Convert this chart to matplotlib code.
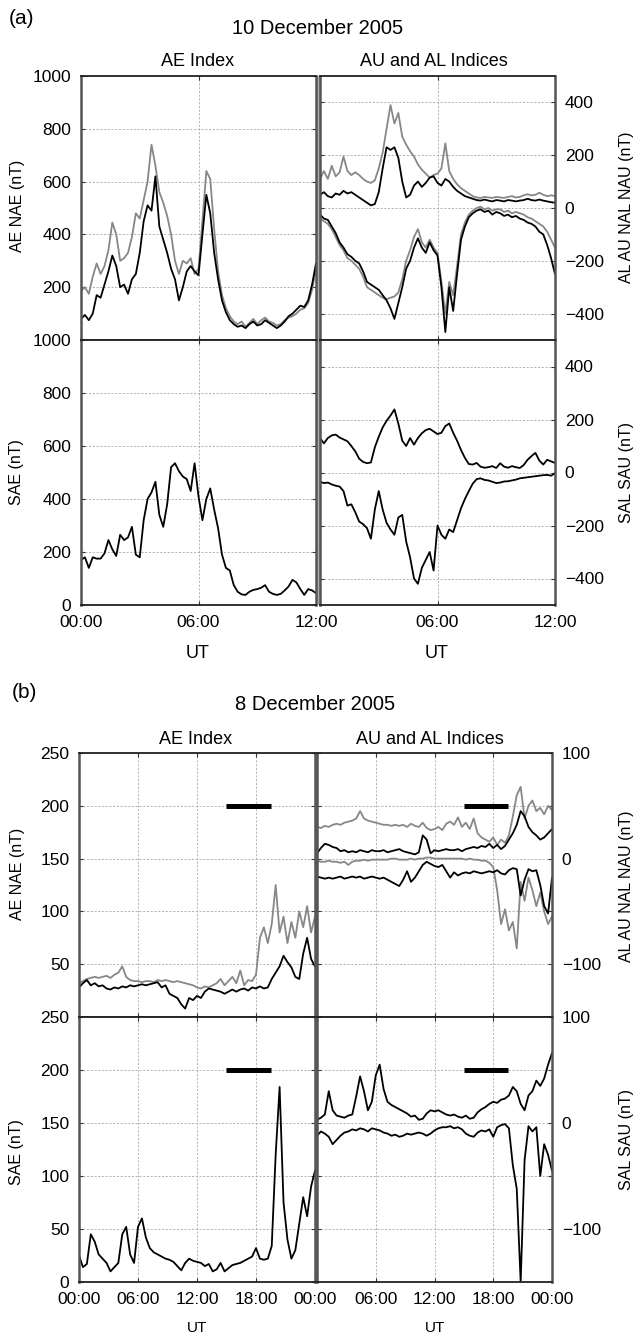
import numpy as np
import matplotlib
matplotlib.use('Agg')
import matplotlib.pyplot as plt
from matplotlib.patches import Rectangle

plt.rcParams['font.family'] = ['Liberation Sans', 'DejaVu Sans']

# ---------------- data: panel (a) 10 December 2005, 00-12 UT, 0.2 h steps
t_a = np.arange(61) * 0.2

ae_a = [80, 95, 75, 100, 170, 160, 210, 260, 320, 280,
        200, 210, 175, 230, 250, 330, 450, 510, 490, 620,
        430, 380, 330, 270, 230, 150, 200, 260, 280, 260,
        245, 400, 550, 480, 330, 230, 150, 105, 75, 60,
        50, 55, 45, 60, 70, 55, 60, 75, 65, 55,
        45, 55, 70, 90, 100, 115, 130, 125, 150, 210,
        290]
nae_a = [185, 200, 175, 240, 290, 250, 280, 340, 445, 400,
         300, 310, 330, 390, 480, 460, 530, 600, 740, 660,
         560, 520, 470, 400, 300, 250, 300, 290, 310, 250,
         270, 450, 640, 610, 420, 260, 170, 120, 90, 70,
         60, 70, 50, 65, 80, 60, 75, 85, 70, 65,
         55, 60, 75, 85, 90, 100, 115, 120, 140, 190,
         270]
nau_a = [110, 140, 110, 160, 120, 135, 195, 140, 125, 135,
         125, 110, 100, 95, 105, 150, 210, 300, 390, 320,
         360, 270, 240, 215, 195, 165, 145, 130, 115, 125,
         130, 150, 245, 140, 110, 90, 75, 65, 55, 45,
         40, 38, 42, 40, 38, 42, 40, 38, 42, 45,
         40, 42, 48, 52, 48, 50, 58, 50, 45, 48,
         45]
au_a = [50, 60, 45, 40, 55, 50, 65, 55, 60, 50,
        40, 30, 20, 10, 15, 60, 150, 230, 220, 230,
        190, 100, 40, 50, 85, 100, 80, 95, 115, 120,
        95, 85, 110, 100, 80, 65, 55, 45, 40, 35,
        30, 28, 32, 28, 25, 30, 28, 25, 30, 28,
        25, 28, 30, 35, 30, 28, 32, 28, 25, 22,
        20]
nal_a = [-40, -50, -60, -80, -110, -140, -160, -190, -200, -215,
         -230, -260, -300, -310, -320, -330, -340, -345, -340, -335,
         -320, -270, -200, -160, -110, -80, -130, -150, -120, -150,
         -170, -280, -400, -280, -330, -220, -100, -55, -25, -10,
         0, 5, -5, 0, -10, -5, -5, -15, -10, -20,
         -15, -20, -25, -35, -40, -50, -60, -70, -90, -120,
         -150]
al_a = [-25, -40, -45, -70, -95, -130, -150, -175, -185, -200,
        -210, -240, -280, -290, -300, -310, -330, -350, -380, -420,
        -360, -300, -230, -200, -150, -115, -150, -170, -130, -160,
        -180, -300, -470, -300, -390, -250, -120, -70, -35, -20,
        -10, -5, -15, -10, -25, -15, -20, -30, -25, -35,
        -30, -40, -45, -55, -60, -70, -90, -100, -140, -190,
        -250]
sae_a = [170, 180, 140, 180, 175, 175, 195, 245, 210, 185,
         265, 245, 255, 295, 190, 180, 320, 400, 425, 465,
         340, 295, 380, 520, 535, 505, 485, 475, 430, 535,
         410, 320, 400, 440, 360, 290, 190, 140, 130, 75,
         50, 40, 38, 50, 57, 60, 65, 75, 50, 42,
         38, 42, 55, 70, 95, 85, 60, 38, 60, 55,
         45]
sau_a = [130, 110, 130, 140, 143, 132, 125, 118, 100, 80,
         52, 40, 35, 38, 95, 135, 170, 195, 215, 238,
         185, 120, 100, 130, 105, 130, 148, 160, 165, 155,
         145, 150, 175, 185, 150, 120, 85, 55, 32, 30,
         36, 22, 18, 20, 24, 17, 35, 22, 18, 24,
         20, 17, 28, 48, 62, 74, 45, 30, 48, 42,
         36]
sal_a = [-35, -40, -38, -45, -50, -53, -70, -125, -120, -150,
         -185, -195, -210, -250, -140, -70, -140, -190, -215, -235,
         -170, -160, -260, -320, -400, -420, -360, -330, -300, -370,
         -200, -235, -250, -215, -225, -180, -135, -100, -70, -42,
         -25, -22, -28, -30, -35, -40, -38, -34, -33, -30,
         -27, -22, -20, -18, -16, -14, -12, -10, -9, -12,
         -3]

# ---------------- data: panel (b) 8 December 2005, 00-24 UT, 0.4 h steps
t_b = np.arange(61) * 0.4

nae_b = [32, 34, 36, 37, 38, 37, 38, 39, 37, 40,
         42, 48, 38, 35, 34, 34, 33, 34, 34, 33,
         35, 34, 35, 34, 33, 34, 33, 32, 31, 30,
         28, 27, 29, 28, 30, 32, 36, 30, 34, 38,
         32, 44, 30, 35, 34, 40, 75, 85, 70, 88,
         125, 80, 95, 70, 90, 75, 100, 85, 105, 80,
         95]
ae_b = [28, 32, 35, 30, 32, 29, 30, 27, 26, 28,
        27, 29, 28, 30, 29, 30, 31, 30, 31, 32,
        33, 28, 30, 22, 20, 18, 12, 8, 18, 16,
        20, 18, 24, 27, 26, 25, 24, 22, 24, 26,
        24, 26, 27, 25, 28, 27, 29, 27, 28, 36,
        42, 48, 58, 52, 47, 38, 36, 60, 75, 55,
        48]
nau_b = [30, 29, 31, 30, 32, 33, 32, 34, 35, 36,
         38, 45, 38, 36, 35, 34, 33, 32, 32, 31,
         32, 31, 32, 30, 33, 31, 30, 34, 29, 27,
         28, 30, 27, 33, 35, 32, 39, 30, 34, 28,
         38, 24, 20, 18, 16, 20, 13, 18, 15, 22,
         40, 60, 68, 38, 50, 55, 45, 48, 42, 50,
         46]
au_b = [5, 10, 14, 13, 11, 10, 7, 8, 6, 7,
        6, 8, 7, 6, 8, 7, 7, 8, 6, 7,
        8, 9, 7, 6, 5, 4, 6, 22, 18, 5,
        8, 7, 8, 9, 8, 8, 9, 7, 9, 10,
        11, 10, 12, 11, 14, 10, 13, 9, 12, 18,
        24, 32, 45, 40, 30, 25, 22, 18, 20, 24,
        28]
nal_b = [-2, -3, -3, -2, -3, -3, -4, -3, -6, -3,
         -2, -2, -1, -2, -1, -1, -1, -1, -1, 0,
         0, -1, -1, -1, 0, -1, 0, 0, 1, 1,
         0, 0, 0, 0, 0, 0, 0, 0, -1, 0,
         -1, -1, -2, -2, -4, -8, -30, -62, -48, -68,
         -60, -85, -22, -40, -18, -30, -45, -32, -50, -62,
         -55]
al_b = [-17, -18, -19, -18, -19, -18, -17, -19, -18, -17,
        -18, -17, -19, -18, -17, -18, -19, -18, -20, -22,
        -24, -26, -20, -12, -22, -18, -12, -6, -3, -5,
        -7, -8, -6, -12, -18, -13, -16, -14, -13, -14,
        -12, -13, -14, -13, -12, -13, -11, -14, -15, -11,
        -9, -10, -35, -20, -10, -12, -11, -25, -45, -52,
        -18]
sae_b = [25, 14, 17, 45, 38, 26, 22, 18, 10, 14,
         18, 45, 52, 26, 18, 52, 60, 42, 32, 28,
         26, 24, 22, 21, 19, 15, 11, 18, 22, 20,
         19, 18, 15, 17, 10, 12, 18, 10, 13, 16,
         17, 18, 20, 22, 24, 32, 22, 21, 22, 34,
         120, 184, 75, 40, 22, 30, 55, 80, 62, 90,
         105]
sau_b = [3, 5, 8, 30, 12, 7, 6, 5, 7, 8,
         25, 44, 30, 12, 20, 45, 55, 32, 20, 17,
         15, 13, 11, 9, 6, 7, 3, 4, 9, 12,
         11, 12, 10, 8, 7, 8, 6, 5, 7, 4,
         5, 10, 13, 15, 18, 20, 19, 22, 23, 26,
         34, 30, 18, 12, 26, 30, 40, 35, 42, 55,
         66]
sal_b = [-12, -8, -10, -13, -20, -16, -12, -9, -8, -6,
         -7, -5, -6, -8, -5, -6, -7, -9, -10, -12,
         -11, -13, -12, -10, -11, -10, -9, -10, -12, -10,
         -7, -5, -4, -4, -3, -5, -4, -6, -10, -12,
         -13, -9, -7, -8, -6, -13, -4, -2, -1, -5,
         -40, -62, -150, -35, -3, -8, -4, -50, -20, -30,
         -45]

# interval bar (UT hours) and its levels
bar_span = [15.0, 19.5]
bar_level_left = 200
bar_level_right = 50

xt_a = [0, 6, 12]
xl_a = ['00:00', '06:00', '12:00']
xt_b = [0, 6, 12, 18, 24]
xl_b = ['00:00', '06:00', '12:00', '18:00', '00:00']

# ---------------- figure
W, H = 636, 1338
fig = plt.figure(figsize=(W / 100, H / 100), dpi=100)

def box(x0, y0, x1, y1):
    return [x0 / W, 1 - y1 / H, (x1 - x0) / W, (y1 - y0) / H]

def txt(x, y, s, **kw):
    fig.text(x / W, 1 - y / H, s, ha='center', va='center', **kw)

def lab(v):
    return ('\u2212%d' % -v) if v < 0 else '%d' % v

GRAY = '#878787'
LW = 1.3

def style(ax, xlim, xt, xl, ylim, yt, ylshow, right, bottom):
    ax.set_xlim(*xlim)
    ax.set_ylim(*ylim)
    ax.set_xticks(xt)
    if bottom:
        labels = list(xl)
        if right:
            labels[0] = ''
    else:
        labels = [''] * len(xt)
    ax.set_xticklabels(labels)
    ax.set_yticks(yt)
    ax.set_yticklabels([lab(v) if v in ylshow else '' for v in yt])
    ax.tick_params(which='both', direction='in', length=3, width=0.8,
                   top=True, bottom=True, left=True, right=True,
                   labelsize=12.5, pad=7, color='#333333')
    if right:
        ax.tick_params(labelleft=False, labelright=True)
    ax.grid(True, color='#a8a8a8', ls=(0, (2.5, 2)), lw=0.6)
    ax.set_axisbelow(True)
    for s in ['left', 'right']:
        ax.spines[s].set_color('#555555')
        ax.spines[s].set_linewidth(1.8)
    for s in ['top', 'bottom']:
        ax.spines[s].set_color('#222222')
        ax.spines[s].set_linewidth(1.3)

# grey bands between the two columns
for (x0, x1, y0, y1) in [(316, 320, 76, 605), (315, 317, 753, 1282)]:
    fig.add_artist(Rectangle((x0 / W, 1 - y1 / H), (x1 - x0) / W, (y1 - y0) / H,
                             transform=fig.transFigure, facecolor='#aaaaaa',
                             edgecolor='none', zorder=0))

# ---- panel (a)
ax = fig.add_axes(box(81, 76, 316, 340))
ax.plot(t_a, nae_a, color=GRAY, lw=LW)
ax.plot(t_a, ae_a, color='black', lw=LW)
style(ax, (0, 12), xt_a, xl_a, (0, 1000), [0, 200, 400, 600, 800, 1000],
      [200, 400, 600, 800, 1000], False, False)

ax = fig.add_axes(box(320, 76, 555, 340))
ax.plot(t_a, nau_a, color=GRAY, lw=LW)
ax.plot(t_a, nal_a, color=GRAY, lw=LW)
ax.plot(t_a, au_a, color='black', lw=LW)
ax.plot(t_a, al_a, color='black', lw=LW)
style(ax, (0, 12), xt_a, xl_a, (-500, 500), [-400, -200, 0, 200, 400],
      [-400, -200, 0, 200, 400], True, False)

ax = fig.add_axes(box(81, 340, 316, 605))
ax.plot(t_a, sae_a, color='black', lw=LW)
style(ax, (0, 12), xt_a, xl_a, (0, 1000), [0, 200, 400, 600, 800, 1000],
      [0, 200, 400, 600, 800, 1000], False, True)

ax = fig.add_axes(box(320, 340, 555, 605))
ax.plot(t_a, sau_a, color='black', lw=LW)
ax.plot(t_a, sal_a, color='black', lw=LW)
style(ax, (0, 12), xt_a, xl_a, (-500, 500), [-400, -200, 0, 200, 400],
      [-400, -200, 0, 200, 400], True, True)

# ---- panel (b)
ax = fig.add_axes(box(79, 753, 315, 1017))
ax.plot(t_b, nae_b, color=GRAY, lw=LW)
ax.plot(t_b, ae_b, color='black', lw=LW)
ax.plot(bar_span, [bar_level_left] * 2, color='black', lw=3.6, solid_capstyle='butt')
style(ax, (0, 24), xt_b, xl_b, (0, 250), [0, 50, 100, 150, 200, 250],
      [50, 100, 150, 200, 250], False, False)

ax = fig.add_axes(box(317, 753, 552, 1017))
ax.plot(t_b, nau_b, color=GRAY, lw=LW)
ax.plot(t_b, nal_b, color=GRAY, lw=LW)
ax.plot(t_b, au_b, color='black', lw=LW)
ax.plot(t_b, al_b, color='black', lw=LW)
ax.plot(bar_span, [bar_level_right] * 2, color='black', lw=3.6, solid_capstyle='butt')
style(ax, (0, 24), xt_b, xl_b, (-150, 100), [-100, -50, 0, 50, 100],
      [-100, 0, 100], True, False)

ax = fig.add_axes(box(79, 1017, 315, 1282))
ax.plot(t_b, sae_b, color='black', lw=LW)
ax.plot(bar_span, [bar_level_left] * 2, color='black', lw=3.6, solid_capstyle='butt')
style(ax, (0, 24), xt_b, xl_b, (0, 250), [0, 50, 100, 150, 200, 250],
      [0, 50, 100, 150, 200, 250], False, True)

ax = fig.add_axes(box(317, 1017, 552, 1282))
ax.plot(t_b, sau_b, color='black', lw=LW)
ax.plot(t_b, sal_b, color='black', lw=LW)
ax.plot(bar_span, [bar_level_right] * 2, color='black', lw=3.6, solid_capstyle='butt')
style(ax, (0, 24), xt_b, xl_b, (-150, 100), [-100, -50, 0, 50, 100],
      [-100, 0, 100], True, True)

# ---- texts
txt(21, 19, '(a)', fontsize=15)
txt(318, 29, '10 December 2005', fontsize=14.5)
txt(198, 62, 'AE Index', fontsize=13)
txt(434, 62, 'AU and AL Indices', fontsize=13)
txt(18, 206, 'AE NAE (nT)', fontsize=11.5, rotation=90)
txt(17, 472, 'SAE (nT)', fontsize=11.5, rotation=90)
txt(626, 207, 'AL AU NAL NAU (nT)', fontsize=11.5, rotation=90)
txt(626, 472, 'SAL SAU (nT)', fontsize=11.5, rotation=90)
txt(198, 653, 'UT', fontsize=13)
txt(437, 653, 'UT', fontsize=13)

txt(24, 692, '(b)', fontsize=15)
txt(315, 705, '8 December 2005', fontsize=14.5)
txt(196, 739, 'AE Index', fontsize=13)
txt(430, 739, 'AU and AL Indices', fontsize=13)
txt(18, 874, 'AE NAE (nT)', fontsize=11.5, rotation=90)
txt(17, 1152, 'SAE (nT)', fontsize=11.5, rotation=90)
txt(626, 886, 'AL AU NAL NAU (nT)', fontsize=11.5, rotation=90)
txt(626, 1139, 'SAL SAU (nT)', fontsize=11.5, rotation=90)
txt(197, 1328, 'UT', fontsize=11)
txt(435, 1328, 'UT', fontsize=11)

fig.savefig('out.png', dpi=100)
